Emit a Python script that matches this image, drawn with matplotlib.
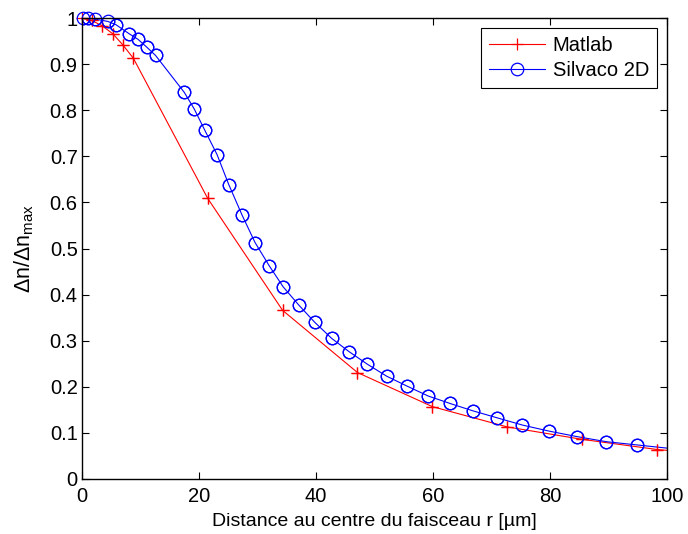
import numpy as np
import matplotlib
matplotlib.use('Agg')
import matplotlib.pyplot as plt

plt.rcParams['font.family'] = ['Liberation Sans', 'DejaVu Sans']
plt.rcParams['mathtext.fontset'] = 'custom'
plt.rcParams['mathtext.rm'] = 'Liberation Sans'
plt.rcParams['mathtext.it'] = 'Liberation Sans'

# Matlab model
r_matlab = [0.0, 1.7, 3.5, 5.3, 7.0, 8.8, 21.5, 34.3, 47.1, 59.9, 72.7, 85.5, 98.3, 111.1]
n_matlab = [1.0, 0.995, 0.983, 0.966, 0.942, 0.913, 0.609, 0.366, 0.231, 0.157,
            0.113, 0.086, 0.064, 0.050]

# Silvaco 2D simulation
r_silvaco = [0.2, 1.1, 2.2, 4.4, 5.8, 8.1, 9.6, 11.1, 12.6, 17.5, 19.2, 21.0, 23.1,
             25.1, 27.4, 29.6, 32.0, 34.4, 37.1, 39.8, 42.7, 45.7, 48.8, 52.1,
             55.5, 59.2, 62.9, 66.8, 70.9, 75.3, 79.8, 84.6, 89.6, 94.8, 101.5]
n_silvaco = [1.0, 1.0, 0.998, 0.993, 0.986, 0.966, 0.954, 0.937, 0.919, 0.839,
             0.803, 0.757, 0.704, 0.639, 0.572, 0.513, 0.463, 0.417, 0.377,
             0.340, 0.305, 0.276, 0.249, 0.223, 0.202, 0.180, 0.164, 0.148,
             0.133, 0.117, 0.104, 0.092, 0.081, 0.074, 0.065]

xmax = 100

fig = plt.figure(figsize=(6.88, 5.34), dpi=100)
ax = fig.add_axes([0.119, 0.103, 0.8505, 0.863])

red_style = dict(color='red', marker='+', markersize=8.5, markeredgewidth=0.9)
blue_style = dict(color='blue', marker='o', markersize=9, markerfacecolor='none',
                  markeredgewidth=0.9)

ax.plot(r_matlab, n_matlab, linewidth=0.8, label='Matlab', **red_style)
ax.plot(r_silvaco, n_silvaco, linewidth=0.8, label='Silvaco 2D', **blue_style)

# markers are not clipped at the top of the axes (like MATLAB)
rm = np.array(r_matlab)
rs = np.array(r_silvaco)
ax.plot(rm[rm <= xmax], np.array(n_matlab)[rm <= xmax], linestyle='none',
        clip_on=False, **red_style)
ax.plot(rs[rs <= xmax], np.array(n_silvaco)[rs <= xmax], linestyle='none',
        clip_on=False, **blue_style)

ax.set_xlim(0, xmax)
ax.set_ylim(0, 1)
ax.set_xticks(np.arange(0, 101, 20))
ax.set_yticks(np.arange(0, 1.01, 0.1))
ax.set_yticklabels(['0', '0.1', '0.2', '0.3', '0.4', '0.5', '0.6', '0.7', '0.8', '0.9', '1'])
ax.tick_params(direction='in', top=True, right=True, labelsize=14.5, length=5, width=0.8)
ax.tick_params(axis='y', pad=3)
ax.tick_params(axis='x', pad=6)
for s in ax.spines.values():
    s.set_linewidth(1.0)

ax.set_xlabel('Distance au centre du faisceau r [µm]', fontsize=14, labelpad=5)
ax.set_ylabel(r'Δn/Δn$_{\mathrm{max}}$', fontsize=15.5, labelpad=10)

leg = ax.legend(loc='upper right', fontsize=14.5, fancybox=False, framealpha=1,
                edgecolor='black', borderaxespad=0.5, handlelength=2.8,
                handletextpad=0.35, borderpad=0.4, labelspacing=0.3)
leg.get_frame().set_linewidth(0.8)

plt.savefig('out.png', dpi=100)
